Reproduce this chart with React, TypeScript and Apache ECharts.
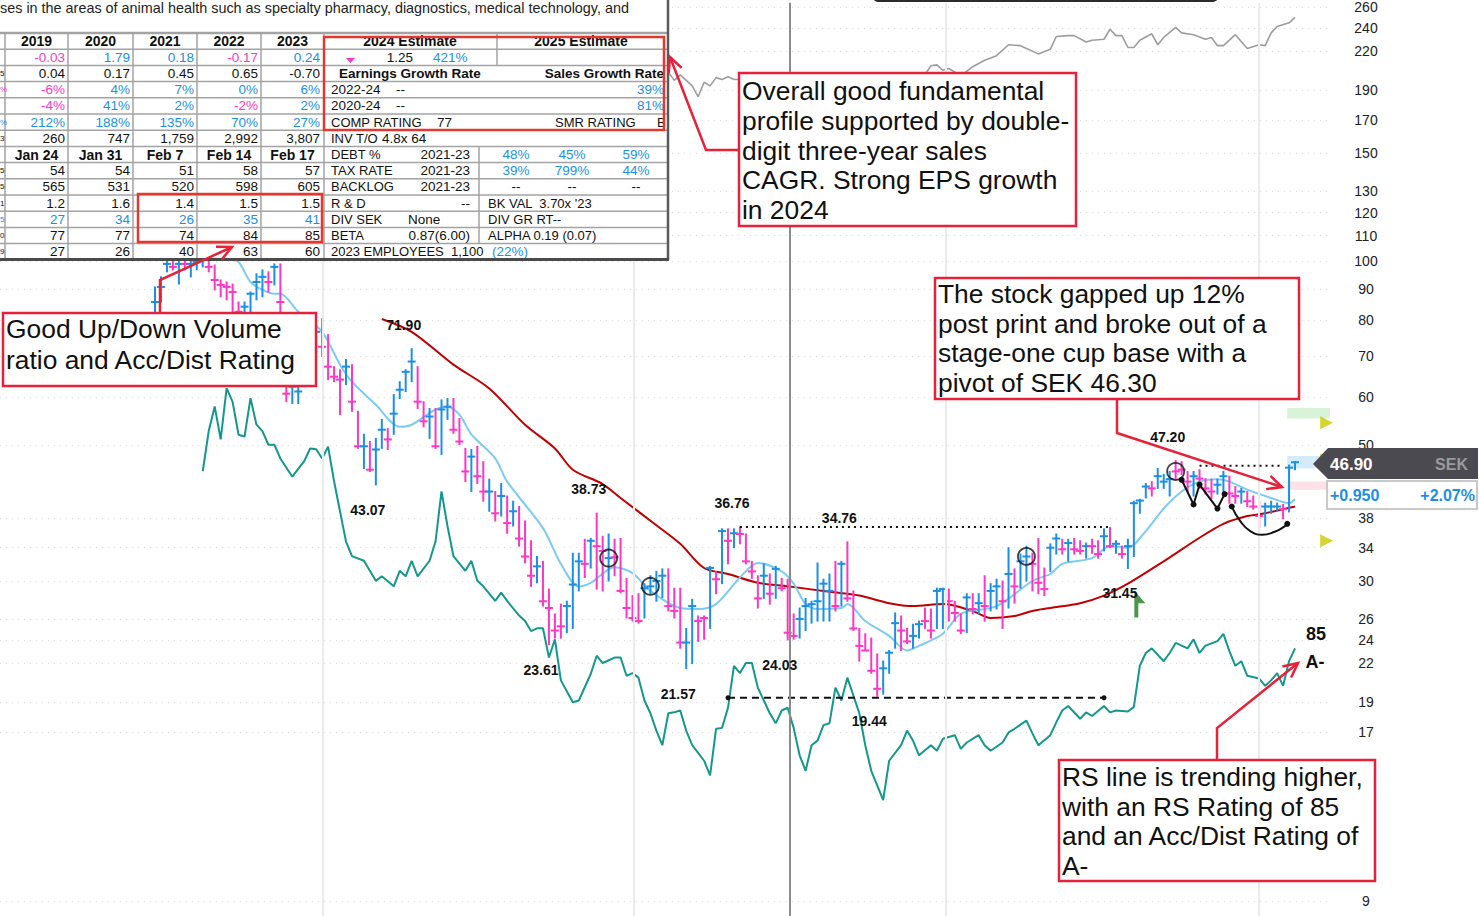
import React, { useEffect, useRef } from 'react';
import * as echarts from 'echarts';

// ---------------- DATA ----------------
const PINK = '#ff36c4';
const BLUE = '#1b8fe6';

// daily bars (SEK)
const highs = [
  90.7, 94.2, 100.4, 100.4, 100.4, 101.5, 100.4, 101.1, 103.4, 101.5,
  98.5, 93.1, 92.4, 91.7, 85.7, 85.7, 89.0, 95.3, 96.7, 96.0,
  98.9, 98.9, 79.5, 64.7, 63.5, 73.8, 78.1, 77.5, 80.5, 75.8,
  67.2, 66.4, 69.0, 67.7, 56.8, 52.1, 50.7, 51.3, 55.1, 53.2,
  60.5, 63.5, 66.4, 71.9, 67.2, 58.9, 57.4, 57.4, 59.3, 59.6,
  59.6, 55.3, 49.4, 49.2, 49.8, 47.0, 44.0, 42.0, 43.3, 41.3,
  40.5, 39.7, 37.6, 34.9, 32.9, 32.3, 29.1, 26.5, 27.5, 27.8,
  33.3, 33.3, 35.1, 35.2, 38.73, 35.5, 35.8, 35.1, 35.2, 30.3,
  28.4, 28.6, 29.7, 30.6, 31.1, 31.4, 31.4, 29.2, 29.2, 25.1,
  28.0, 26.3, 26.3, 31.7, 31.1, 36.5, 36.5, 36.5, 36.76, 35.8,
  32.3, 30.6, 32.0, 30.8, 31.7, 30.3, 30.2, 26.5, 27.1, 28.1,
  27.8, 32.1, 30.2, 30.8, 32.3, 32.3, 34.76, 28.9, 25.1, 24.6,
  24.2, 22.8, 22.2, 23.1, 26.6, 26.3, 25.1, 25.5, 25.8, 27.1,
  27.0, 29.2, 29.2, 29.1, 27.8, 26.5, 28.6, 28.6, 28.6, 30.6,
  29.7, 30.2, 30.0, 34.0, 31.4, 33.2, 34.2, 33.3, 35.2, 31.5,
  34.5, 35.8, 35.1, 35.1, 35.2, 34.9, 34.6, 35.1, 34.9, 36.5,
  36.7, 34.9, 34.2, 35.1, 40.5, 40.8, 43.3, 43.6, 45.8, 44.8,
  45.3, 47.2, 47.0, 45.3, 45.3, 45.6, 44.1, 44.0, 44.0, 45.3,
  44.5, 42.8, 42.5, 42.0, 41.3, 40.5, 40.2, 40.5, 40.2, 40.0,
  46.4, 47.0,
];
const lows = [
  80.1, 85.7, 96.0, 96.7, 91.7, 96.7, 94.2, 96.7, 97.8, 96.0,
  89.7, 87.4, 86.4, 82.0, 81.1, 81.7, 81.1, 86.4, 87.4, 89.0,
  91.4, 79.5, 58.9, 58.5, 58.5, 62.3, 69.8, 71.1, 69.8, 64.0,
  63.5, 56.1, 62.8, 56.8, 49.4, 45.8, 45.3, 43.07, 49.4, 49.2,
  52.1, 59.6, 61.2, 63.5, 57.4, 53.6, 51.3, 49.4, 48.3, 55.1,
  52.3, 50.1, 43.6, 42.0, 43.3, 40.5, 39.0, 37.6, 38.3, 35.9,
  36.9, 34.2, 32.1, 29.4, 29.8, 27.3, 23.61, 24.2, 24.2, 24.7,
  25.1, 28.9, 30.4, 31.5, 29.1, 28.9, 30.0, 30.6, 28.7, 26.1,
  25.8, 25.6, 26.1, 28.6, 27.8, 28.2, 26.8, 26.1, 23.3, 21.57,
  22.0, 23.9, 24.1, 25.1, 28.6, 29.7, 32.0, 34.0, 34.5, 32.0,
  30.3, 27.1, 28.1, 27.5, 28.1, 28.9, 24.03, 24.1, 24.2, 24.9,
  25.6, 25.8, 25.8, 25.8, 26.8, 27.3, 27.8, 24.9, 22.2, 23.1,
  21.2, 19.44, 19.6, 21.2, 23.3, 23.1, 23.7, 23.3, 24.2, 25.1,
  24.2, 25.1, 25.1, 25.8, 25.8, 24.6, 24.7, 26.5, 26.5, 25.8,
  26.8, 27.0, 25.1, 27.1, 27.6, 29.2, 30.0, 28.9, 28.6, 28.4,
  31.1, 33.2, 33.2, 32.3, 33.2, 33.2, 32.7, 33.3, 32.7, 33.6,
  34.0, 33.3, 32.7, 31.45, 32.9, 38.7, 41.0, 41.3, 42.5, 42.5,
  41.3, 44.0, 44.8, 42.0, 41.3, 42.5, 41.6, 40.9, 41.6, 41.6,
  40.2, 40.2, 40.2, 39.7, 39.3, 36.7, 36.9, 38.7, 39.0, 37.9,
  38.9, 45.6,
];
const closes = [
  85.7, 90.7, 98.9, 97.8, 98.9, 98.9, 98.9, 99.6, 101.5, 97.8,
  93.1, 91.4, 90.7, 89.0, 82.6, 84.2, 88.4, 92.4, 94.2, 92.4,
  97.8, 85.7, 60.7, 62.3, 61.2, 71.1, 75.2, 76.6, 72.4, 67.2,
  64.7, 64.0, 67.2, 58.9, 49.8, 49.8, 45.6, 49.2, 53.0, 51.1,
  56.3, 61.6, 65.9, 68.5, 58.9, 54.7, 55.7, 49.8, 57.2, 57.8,
  53.0, 50.7, 45.3, 47.9, 44.5, 42.0, 42.0, 38.7, 41.3, 37.3,
  39.0, 35.2, 32.9, 30.6, 31.7, 27.8, 27.1, 24.9, 25.3, 27.3,
  29.6, 32.3, 32.0, 34.9, 34.2, 33.6, 32.7, 32.8, 28.9, 27.1,
  26.1, 25.8, 29.2, 29.4, 30.0, 30.6, 27.3, 26.8, 23.8, 23.8,
  27.3, 25.8, 26.1, 31.5, 30.2, 36.2, 34.9, 35.9, 35.8, 32.3,
  31.1, 28.1, 30.6, 28.6, 31.4, 29.2, 24.7, 24.4, 26.0, 27.3,
  27.5, 27.8, 29.7, 28.9, 27.3, 32.0, 28.1, 25.1, 23.5, 23.1,
  21.4, 20.0, 21.6, 22.9, 25.6, 24.9, 23.9, 24.4, 25.5, 25.8,
  24.9, 28.9, 29.1, 27.8, 26.6, 24.9, 28.2, 27.0, 27.6, 27.3,
  28.9, 29.4, 27.8, 30.8, 29.4, 32.3, 32.9, 32.0, 29.8, 29.1,
  34.0, 35.2, 33.8, 34.6, 33.8, 33.6, 34.2, 34.2, 33.2, 35.5,
  34.2, 34.5, 33.2, 34.2, 40.2, 40.6, 42.8, 42.5, 44.5, 43.6,
  44.0, 45.3, 45.6, 43.6, 44.5, 44.1, 42.5, 42.0, 43.1, 44.5,
  41.7, 41.3, 42.0, 40.5, 39.7, 38.3, 39.7, 39.7, 39.7, 39.3,
  45.95, 46.9,
];
// B = up day (blue), P = down day (pink)
const barDirs =
  'BBBPBPBBBP' + 'PPPPPBBBBP' + 'BPPBBBBBPP' + 'PPBPPBPBBP' + 'BBBBPPBPBB' +
  'PPPBPPBPBP' + 'BPPPBPPPPB' + 'BBPBPPBPPP' + 'PPBBBBPPPB' + 'BPPBPBPBPP' +
  'PPBPBPPPBB' + 'BBBBPBPPPP' + 'PPBBBPPBBP' + 'PBBPPPBPBP' + 'BBPBPBBPPP' +
  'BBPBPPBPPB' + 'PBPBBBBPBB' + 'BPPPBPPPBB' + 'PPBPPPBBBP' + 'BB';

// moving averages [bar, price]
const ma10 = [[12,101.5],[14,99.6],[16,92.4],[18,89.7],[20,88.4],[21,88.4],[24,82.6],[28,76.6],[31,67.7],[33,63.5],[37,58.2],[41,53.6],[43,54.0],[47,57.2],[49,57.8],[51,56.1],[53,52.1],[57,47.6],[59,43.6],[65,36.6],[68,32.0],[71,29.4],[73,29.8],[77,31.6],[80,30.9],[83,28.9],[88,27.1],[91,27.0],[94,27.5],[98,30.4],[101,32.1],[105,31.1],[107,29.7],[109,27.5],[111,27.0],[115,27.1],[116,27.5],[119,25.8],[123,24.4],[126,23.1],[128,23.5],[132,24.6],[135,26.5],[141,27.3],[147,30.0],[150,30.8],[152,32.0],[157,32.7],[160,34.2],[163,34.0],[166,36.2],[169,39.4],[172,42.0],[175,43.6],[178,44.0],[180,43.6],[183,42.3],[187,41.0],[190,40.2],[191,40.8]];
const ma50 = [[38,80.4],[43,76.6],[50,67.7],[56,61.9],[62,54.0],[67,49.4],[70,45.6],[75,43.2],[78,41.0],[84,37.0],[88,34.5],[92,31.5],[96,30.8],[101,29.8],[106,29.4],[112,28.9],[118,28.4],[123,27.6],[127,27.3],[132,27.5],[137,26.8],[140,26.1],[144,26.3],[147,26.8],[150,27.1],[155,27.6],[159,28.4],[163,29.7],[169,32.3],[175,35.3],[179,37.2],[183,38.3],[186,38.7],[189,39.3],[191,39.7]];

// relative strength line [bar, level]
const rsLine = [[8,48.7],[9,53.1],[10,55.8],[11,52.2],[12,57.8],[13,56.3],[14,52.7],[15,52.5],[16,56.7],[17,53.8],[18,53.1],[19,51.6],[20,51.6],[21,50.1],[23,48.1],[25,49.8],[26,51.2],[27,51.1],[28,50.1],[29,51.4],[30,47.6],[31,44.3],[32,41.0],[33,39.4],[35,38.9],[36,37.8],[37,36.7],[38,37.2],[40,36.1],[41,37.8],[42,37.2],[43,38.9],[44,37.2],[46,38.9],[47,41.0],[48,46.5],[49,42.7],[50,39.4],[52,37.8],[53,38.9],[54,36.7],[55,36.1],[57,34.5],[58,35.4],[59,34.5],[61,32.9],[62,32.3],[63,31.2],[64,31.5],[65,31.5],[66,28.3],[67,30.3],[68,25.8],[70,23.4],[71,23.6],[73,26.5],[74,28.5],[75,27.7],[77,28.3],[78,28.3],[79,26.3],[80,26.6],[81,26.1],[82,23.6],[83,22.2],[84,20.3],[85,18.7],[86,22.2],[87,22.3],[88,22.5],[89,20.3],[90,18.7],[92,17.0],[93,15.4],[94,20.5],[95,20.6],[96,22.8],[97,27.4],[98,26.6],[99,27.7],[100,27.7],[101,25.0],[103,22.2],[104,21.1],[105,22.5],[106,22.8],[107,20.6],[108,17.6],[109,15.9],[110,18.7],[111,19.2],[112,20.9],[113,21.1],[114,25.0],[115,23.6],[116,26.1],[118,22.2],[119,18.7],[120,15.9],[121,14.3],[122,12.7],[123,17.0],[125,18.7],[126,20.3],[127,19.2],[128,17.6],[130,18.7],[131,18.1],[132,19.4],[134,19.8],[135,18.3],[136,19.0],[138,19.8],[139,18.7],[140,18.1],[142,19.0],[143,20.1],[144,20.5],[146,21.4],[147,20.0],[148,18.7],[150,19.8],[151,21.2],[152,22.5],[153,23.0],[155,21.6],[156,22.3],[157,21.9],[159,23.0],[160,22.3],[161,22.5],[163,22.4],[164,22.9],[165,27.4],[166,28.8],[167,29.3],[169,27.9],[170,28.8],[171,29.9],[173,29.3],[174,30.3],[175,28.8],[176,29.6],[178,30.1],[179,30.9],[180,29.0],[181,27.4],[182,27.9],[183,26.3],[185,26.0],[186,25.2],[187,25.8],[188,26.6],[189,25.2],[190,27.9],[191,29.3]];
// market index line [bar, level]
const indexLine = [[86,92.4],[87,91.5],[88,92.1],[90,90.9],[91,89.7],[92,91.3],[93,90.9],[94,91.8],[95,91.6],[96,91.9],[97,91.6],[129,92.1],[130,93.1],[131,93.2],[132,92.6],[133,92.8],[135,92.0],[137,93.0],[139,93.7],[141,94.2],[143,95.4],[145,95.3],[148,94.4],[150,94.9],[151,96.3],[153,96.4],[154,96.4],[156,95.7],[157,95.9],[159,96.0],[160,97.1],[161,96.4],[162,96.4],[163,95.1],[164,95.1],[165,95.9],[167,96.6],[168,95.4],[169,96.2],[171,97.3],[172,96.7],[174,96.5],[176,96.0],[177,96.2],[178,95.3],[179,95.3],[181,96.5],[183,95.0],[185,95.4],[186,95.3],[187,96.7],[188,97.4],[190,97.8],[191,98.4]];

// price-axis tick labels
const priceTicks = [260, 240, 220, 190, 170, 150, 130, 120, 110, 100, 90, 80, 70, 60, 50, 38, 34, 30, 26, 24, 22, 19, 17, 9];

// labelled highs / lows
const hlIdx = [43, 37, 74, 66, 98, 89, 116, 106, 121, 171, 163];
const hlVal = [71.90, 43.07, 38.73, 23.61, 36.76, 21.57, 34.76, 24.03, 19.44, 47.20, 31.45];
const hlSide = [1, 0, 1, 0, 1, 0, 1, 0, 0, 1, 0];

const circledBars = [76, 83, 146, 171];
const periodLines = [28.15, 80.25, 132.5, 184.97];
const yearLine = 106.4;

const baseHigh = 36.76, baseFrom = 98, baseTo = 160;
const pivot = 46.30, pivotFrom = 175, pivotTo = 189;
const rsRef = 23.9, rsRefFrom = 96, rsRefTo = 159;
const wPattern = [[172.0, 43.9], [174.0, 40.0], [175.0, 43.1], [178.0, 39.4], [179.2, 41.6]];
const cupPattern = [[180.4, 39.7], [181.8, 37.6], [183.5, 36.2], [185.5, 35.7], [187.6, 36.1], [189.0, 36.7], [189.7, 37.2]];

// Fundamental table
const yearHeaders = ['2019', '2020', '2021', '2022', '2023'];
const annualRows = [
  ['-0.03', '1.79', '0.18', '-0.17', '0.24'],
  ['0.04', '0.17', '0.45', '0.65', '-0.70'],
  ['-6%', '4%', '7%', '0%', '6%'],
  ['-4%', '41%', '2%', '-2%', '2%'],
  ['212%', '188%', '135%', '70%', '27%'],
  ['260', '747', '1,759', '2,992', '3,807'],
];
const annualColor = ['sign', 'black', 'sign', 'sign', 'blue', 'black'];
const weekHeaders = ['Jan 24', 'Jan 31', 'Feb 7', 'Feb 14', 'Feb 17'];
const weeklyRows = [
  ['54', '54', '51', '58', '57'],
  ['565', '531', '520', '598', '605'],
  ['1.2', '1.6', '1.4', '1.5', '1.5'],
  ['27', '34', '26', '35', '41'],
  ['77', '77', '74', '84', '85'],
  ['27', '26', '40', '63', '60'],
];
const weeklyColor = ['black', 'black', 'black', 'blue', 'black', 'black'];
const cutChars = ['', '', '5', '%', '', '%', '3', '', '5', '5', '1', '5', '0', '9'];
const cutColors = ['', '', 'black', 'pink', '', 'blue', 'black', '', 'black', 'black', 'black', 'blue', 'black', 'black'];
const blurb = 'ses in the areas of animal health such as specialty pharmacy, diagnostics, medical technology, and';

const notes1 = ['Overall good fundamental', 'profile supported by double-', 'digit three-year sales', 'CAGR. Strong EPS growth', 'in 2024'];
const notes2 = ['Good Up/Down Volume', 'ratio and Acc/Dist Rating'];
const notes3 = ['The stock gapped up 12%', 'post print and broke out of a', 'stage-one cup base with a', 'pivot of SEK 46.30'];
const notes4 = ['RS line is trending higher,', 'with an RS Rating of 85', 'and an Acc/Dist Rating of', 'A-'];

const lastPrice = '46.90';
const currency = 'SEK';
const change = '+0.950';
const changePct = '+2.07%';
const rsRating = '85';
const adRating = 'A-';

// ---------------- HELPERS ----------------
const FONT = '"Liberation Sans", Arial, sans-serif';
const ZT = 100;
const txt = (text: string, x: number, y: number, o: any = {}) => ({
  type: 'text', x, y, z: o.z ?? ZT + 2,
  style: {
    text, fill: o.color || '#111',
    font: `${o.bold ? 'bold ' : ''}${o.size || (o.bold ? 14 : 13.5)}px ${FONT}`,
    textAlign: o.align || 'left', align: o.align || 'left',
    textVerticalAlign: 'middle', verticalAlign: 'middle',
  },
});
const ln = (x1: number, y1: number, x2: number, y2: number, color: string, w: number, z = ZT + 1) => ({
  type: 'line', z, shape: { x1, y1, x2, y2 }, style: { stroke: color, lineWidth: w },
});
const rectEl = (x: number, y: number, w: number, h: number, style: any, z = ZT) => ({
  type: 'rect', z, shape: { x, y, width: w, height: h }, style,
});
const arrow = (pts: number[][], color: string) => {
  const n = pts.length;
  const [x1, y1] = pts[n - 2];
  const [x2, y2] = pts[n - 1];
  const a = Math.atan2(y2 - y1, x2 - x1);
  const L = 16, s = 0.45;
  const p1 = [x2 - L * Math.cos(a - s), y2 - L * Math.sin(a - s)];
  const p2 = [x2 - L * Math.cos(a + s), y2 - L * Math.sin(a + s)];
  return [
    { type: 'polyline', z: ZT + 5, shape: { points: pts }, style: { stroke: color, lineWidth: 2.5, fill: null } },
    { type: 'polyline', z: ZT + 5, shape: { points: [p1, [x2, y2], p2] }, style: { stroke: color, lineWidth: 2.5, fill: null } },
  ];
};
const noteBox = (lines: string[], x: number, y: number, w: number, h: number, firstY: number, step: number) => {
  const els: any[] = [rectEl(x, y, w, h, { fill: '#fff', stroke: '#e8213a', lineWidth: 2.5 }, ZT + 6)];
  lines.forEach((t, i) => els.push(txt(t, x + 3, firstY + i * step, { size: 26.4, color: '#111', z: ZT + 7 })));
  return els;
};

function buildGraphics() {
  const g: any[] = [];
  const TL = '#a3a3a3';
  const rowTop = (k: number) => 33 + 16.2 * k;
  const rowMid = (k: number) => 33 + 16.2 * k + 8.1;
  // table background
  g.push(rectEl(0, 0, 668, 259, { fill: '#fff' }, ZT));
  g.push(txt(blurb, 0, 8, { size: 14.4, color: '#222' }));
  for (let k = 0; k <= 14; k++) g.push(ln(0, rowTop(k), 668, rowTop(k), TL, k === 0 ? 2.5 : 1.5));
  [5, 68, 133, 197, 261, 324].forEach((x) => g.push(ln(x, rowTop(0), x, rowTop(14), TL, 1.5)));
  g.push(ln(497, rowTop(0), 497, rowTop(2), TL, 1.5));
  g.push(ln(479, rowTop(7), 479, rowTop(13), TL, 1.5));
  g.push(ln(668, 0, 668, 260, '#5a5a5a', 2.5, ZT + 3));
  g.push(ln(0, 259.5, 669, 259.5, '#4a4a4a', 3, ZT + 3));

  const colC = [36.5, 100.5, 165, 229, 292.5];
  const colR = [65, 130, 194, 258, 320];
  const cellColor = (mode: string, v: string) =>
    mode === 'black' ? '#111' : mode === 'blue' ? BLUE : v.startsWith('-') ? PINK : BLUE;
  yearHeaders.forEach((h, c) => g.push(txt(h, colC[c], rowMid(0), { bold: true, align: 'center' })));
  annualRows.forEach((row, r) => row.forEach((v, c) =>
    g.push(txt(v, colR[c], rowMid(r + 1), { align: 'right', color: cellColor(annualColor[r], v) }))));
  weekHeaders.forEach((h, c) => g.push(txt(h, colC[c], rowMid(7), { bold: true, align: 'center' })));
  weeklyRows.forEach((row, r) => row.forEach((v, c) =>
    g.push(txt(v, colR[c], rowMid(r + 8), { align: 'right', color: cellColor(weeklyColor[r], v) }))));
  cutChars.forEach((ch, k) => {
    if (ch) g.push(txt(ch, 0, rowMid(k), { size: 8, color: cutColors[k] === 'pink' ? PINK : cutColors[k] === 'blue' ? BLUE : '#111' }));
  });

  // right part of the table
  g.push(txt('2024 Estimate', 410, rowMid(0), { bold: true, align: 'center' }));
  g.push(txt('2025 Estimate', 581, rowMid(0), { bold: true, align: 'center' }));
  g.push({ type: 'polygon', z: ZT + 2, shape: { points: [[346, 58], [355, 58], [350.5, 63]] }, style: { fill: PINK } });
  g.push(txt('1.25', 413, rowMid(1), { align: 'right' }));
  g.push(txt('421%', 433, rowMid(1), { color: BLUE }));
  g.push(txt('Earnings Growth Rate', 339, rowMid(2), { bold: true, size: 13.5 }));
  g.push(txt('Sales Growth Rate', 664, rowMid(2), { bold: true, size: 13.5, align: 'right' }));
  g.push(txt('2022-24', 331, rowMid(3)));
  g.push(txt('--', 396, rowMid(3)));
  g.push(txt('39%', 664, rowMid(3), { align: 'right', color: BLUE }));
  g.push(txt('2020-24', 331, rowMid(4)));
  g.push(txt('--', 396, rowMid(4)));
  g.push(txt('81%', 664, rowMid(4), { align: 'right', color: BLUE }));
  g.push(txt('COMP RATING', 331, rowMid(5), { size: 13 }));
  g.push(txt('77', 437, rowMid(5)));
  g.push(txt('SMR RATING', 555, rowMid(5), { size: 13 }));
  g.push(txt('B', 657, rowMid(5), { size: 13 }));
  g.push(txt('INV T/O', 331, rowMid(6), { size: 13 }));
  g.push(txt('4.8x 64', 382, rowMid(6)));
  const triRows = [['DEBT %', '48%', '45%', '59%'], ['TAX RATE', '39%', '799%', '44%'], ['BACKLOG', '--', '--', '--']];
  triRows.forEach((r, i) => {
    g.push(txt(r[0], 331, rowMid(7 + i), { size: 13 }));
    g.push(txt('2021-23', 470, rowMid(7 + i), { align: 'right' }));
    [516, 572, 636].forEach((x, j) => g.push(txt(r[j + 1], x, rowMid(7 + i), { align: 'center', color: i < 2 ? BLUE : '#111' })));
  });
  g.push(txt('R & D', 331, rowMid(10), { size: 13 }));
  g.push(txt('--', 470, rowMid(10), { align: 'right' }));
  g.push(txt("BK VAL  3.70x '23", 488, rowMid(10), { size: 13 }));
  g.push(txt('DIV SEK', 331, rowMid(11), { size: 13 }));
  g.push(txt('None', 408, rowMid(11)));
  g.push(txt('DIV GR RT--', 488, rowMid(11), { size: 13 }));
  g.push(txt('BETA', 331, rowMid(12), { size: 13 }));
  g.push(txt('0.87(6.00)', 470, rowMid(12), { align: 'right' }));
  g.push(txt('ALPHA 0.19 (0.07)', 488, rowMid(12), { size: 13 }));
  g.push(txt('2023 EMPLOYEES  1,100', 331, rowMid(13), { size: 13 }));
  g.push(txt('(22%)', 492, rowMid(13), { color: BLUE }));

  // red highlight rectangles in the table
  g.push(rectEl(324, 37, 340, 93, { fill: null, stroke: '#e2382f', lineWidth: 2.5 }, ZT + 4));
  g.push(rectEl(138, 194, 184, 48, { fill: null, stroke: '#e2382f', lineWidth: 2.5 }, ZT + 4));

  // top dark header strip
  g.push({ type: 'rect', z: ZT, shape: { x: 873, y: -10, width: 345, height: 12, r: 5 }, style: { fill: '#2c2c2c' } });

  // annotation boxes and arrows
  g.push(...arrow([[739, 150], [706, 150], [670, 57]], '#e8213a'));
  g.push(...arrow([[160, 313], [160, 280], [232, 247]], '#e8213a'));
  g.push(...arrow([[1117, 399], [1117, 433], [1282, 487]], '#e8213a'));
  g.push(...arrow([[1217, 760], [1217, 728], [1298, 663]], '#e8213a'));
  g.push(...noteBox(notes1, 739, 73, 337, 153, 91, 29.8));
  g.push(...noteBox(notes2, 3, 313, 313, 73, 329, 31));
  g.push(...noteBox(notes3, 935, 278, 364, 121, 294, 29.7));
  g.push(...noteBox(notes4, 1059, 760, 316, 121, 777, 29.7));

  // RS rating labels
  g.push(txt(rsRating, 1316, 634, { bold: true, size: 18, align: 'center' }));
  g.push(txt(adRating, 1315, 662, { bold: true, size: 18, align: 'center' }));

  // price tag
  g.push({ type: 'polygon', z: ZT + 8, shape: { points: [[1313, 464], [1328, 448], [1478, 448], [1478, 479], [1328, 479]] }, style: { fill: '#4b4a50' } });
  g.push(txt(lastPrice, 1330, 464, { bold: true, size: 17, color: '#fff', z: ZT + 9 }));
  g.push(txt(currency, 1468, 464, { bold: true, size: 16, color: '#9a9a9a', align: 'right', z: ZT + 9 }));
  g.push(rectEl(1327, 481, 150, 28, { fill: '#fff', stroke: '#c9c9c9', lineWidth: 2 }, ZT + 8));
  g.push(txt(change, 1330, 495, { bold: true, size: 16, color: BLUE, z: ZT + 9 }));
  g.push(txt(changePct, 1475, 495, { bold: true, size: 16, color: BLUE, align: 'right', z: ZT + 9 }));
  return g;
}

function buildOption() {
  const L = Math.log;
  const ohlc = highs.map((h, i) => [i, L(h), L(lows[i]), L(closes[i]), barDirs[i] === 'B' ? 1 : 0]);
  const lp = (arr: number[][]) => arr.map(([i, v]) => [i, L(v)]);
  const tickLn = priceTicks.map((t) => L(t));

  return {
    animation: false,
    backgroundColor: '#fff',
    grid: { left: 0, right: 149, top: 0, bottom: 0, containLabel: false },
    xAxis: { type: 'value', min: -25.97, max: 196.86, show: false },
    yAxis: [
      {
        type: 'value', position: 'right', min: 2.1408, max: 5.5767,
        axisLine: { show: false },
        axisTick: { show: false, customValues: tickLn },
        axisLabel: {
          customValues: tickLn,
          formatter: (v: number) => String(Math.round(Math.exp(v))),
          color: '#222', fontSize: 14, fontFamily: 'Liberation Sans', margin: 36, align: 'center',
        },
        splitLine: { show: true, lineStyle: { color: '#dcdcdc', type: [1, 5], width: 1.2 } },
      },
      { type: 'value', min: 0, max: 100, show: false },
    ],
    series: [
      {
        type: 'line', yAxisIndex: 1, data: indexLine, symbol: 'none', z: 1,
        lineStyle: { color: '#9d9d9d', width: 1.6 },
        markLine: {
          silent: true, symbol: 'none', label: { show: false },
          data: [
            ...periodLines.map((x) => ({ xAxis: x, lineStyle: { color: '#ebebeb', width: 2, type: 'solid' } })),
            { xAxis: yearLine, lineStyle: { color: '#8c8c8c', width: 2, type: 'solid' } },
          ],
        },
      },
      { type: 'line', yAxisIndex: 1, data: rsLine, symbol: 'none', z: 2, lineStyle: { color: '#14978c', width: 2 } },
      {
        type: 'line', yAxisIndex: 1, data: [[rsRefFrom, rsRef], [rsRefTo, rsRef]], z: 3,
        symbol: 'circle', symbolSize: 5, itemStyle: { color: '#111' },
        lineStyle: { color: '#111', width: 2, type: [7, 5] },
      },
      { type: 'line', data: lp(ma50), symbol: 'none', smooth: 0.3, z: 3, lineStyle: { color: '#c00000', width: 2 } },
      { type: 'line', data: lp(ma10), symbol: 'none', smooth: 0.3, z: 3, lineStyle: { color: '#7ccaf5', width: 2 } },
      {
        type: 'custom', data: ohlc, z: 4,
        encode: { x: 0, y: [1, 2, 3] },
        renderItem: (params: any, api: any) => {
          const i = api.value(0);
          const hi = api.coord([i, api.value(1)]);
          const lo = api.coord([i, api.value(2)]);
          const cl = api.coord([i, api.value(3)]);
          const color = api.value(4) ? BLUE : PINK;
          return {
            type: 'group',
            children: [
              { type: 'line', shape: { x1: hi[0], y1: hi[1] - 0.5, x2: lo[0], y2: lo[1] + 0.5 }, style: { stroke: color, lineWidth: 2 } },
              { type: 'line', shape: { x1: cl[0] - 4, y1: cl[1], x2: cl[0] + 4, y2: cl[1] }, style: { stroke: color, lineWidth: 2 } },
            ],
          };
        },
        markArea: {
          silent: true,
          data: [
            [{ xAxis: 189.7, yAxis: L(57.5), itemStyle: { color: '#d8f3d8' } }, { xAxis: 196.86, yAxis: L(55.3) }],
            [{ xAxis: 189.7, yAxis: L(48.0), itemStyle: { color: '#d4ebfb' } }, { xAxis: 196.86, yAxis: L(45.8) }],
            [{ xAxis: 189.7, yAxis: L(43.6), itemStyle: { color: '#fde0e8' } }, { xAxis: 196.86, yAxis: L(42.3) }],
          ],
        },
      },
      {
        type: 'line', data: [[baseFrom, L(baseHigh)], [baseTo, L(baseHigh)]], symbol: 'none', z: 5,
        lineStyle: { color: '#111', width: 2, type: [2, 4] },
      },
      {
        type: 'line', data: [[pivotFrom, L(pivot)], [pivotTo, L(pivot)]], symbol: 'none', z: 5,
        lineStyle: { color: '#111', width: 2, type: [2, 4] },
      },
      {
        type: 'line', data: lp(wPattern), z: 6, symbol: 'circle', symbolSize: 6,
        itemStyle: { color: '#111' }, lineStyle: { color: '#111', width: 2 },
      },
      {
        type: 'line', z: 6, smooth: true, itemStyle: { color: '#111' }, lineStyle: { color: '#111', width: 2 },
        data: lp(cupPattern).map((p, i, a) => ({ value: p, symbol: i === 0 || i === a.length - 1 ? 'circle' : 'none', symbolSize: 6 })),
      },
      {
        type: 'scatter', z: 6, symbol: 'circle', symbolSize: 17,
        itemStyle: { color: 'rgba(0,0,0,0)', borderColor: '#111', borderWidth: 1.8 },
        data: circledBars.map((i) => [i, L(closes[i])]),
      },
      {
        type: 'scatter', z: 6, symbol: 'path://M0,0 L10,14 L3.6,14 L3.6,30 L0,30 Z', symbolSize: [11, 27],
        itemStyle: { color: '#217a21' }, data: [[165, L(27.5)]],
      },
      {
        type: 'scatter', z: 6, symbol: 'triangle', symbolRotate: -90, symbolSize: 13,
        itemStyle: { color: '#c9c900' }, data: [[196.3, L(54.4)], [196.3, L(47.3)], [196.3, L(34.9)]],
      },
      {
        type: 'custom', z: 7,
        data: hlIdx.map((i, k) => [i, L(hlVal[k]), hlSide[k]]),
        renderItem: (params: any, api: any) => {
          const p = api.coord([api.value(0), api.value(1)]);
          const up = api.value(2) > 0;
          return {
            type: 'text', x: p[0] - 8, y: p[1] + (up ? -24 : 25),
            style: {
              text: Math.exp(api.value(1)).toFixed(2), fill: '#111', font: `bold 14px ${FONT}`,
              textAlign: 'center', align: 'center', textVerticalAlign: 'middle', verticalAlign: 'middle',
            },
          };
        },
      },
    ],
    graphic: { elements: buildGraphics() },
  };
}

export default function App() {
  const ref = useRef<HTMLDivElement>(null);
  useEffect(() => {
    if (!ref.current) return;
    const chart = echarts.init(ref.current, undefined, { renderer: 'svg' });
    chart.setOption(buildOption() as any);
    return () => chart.dispose();
  }, []);
  return (
    <div
      ref={ref}
      style={{ position: 'absolute', left: 0, top: 0, width: 1479, height: 916, background: '#fff' }}
    />
  );
}
